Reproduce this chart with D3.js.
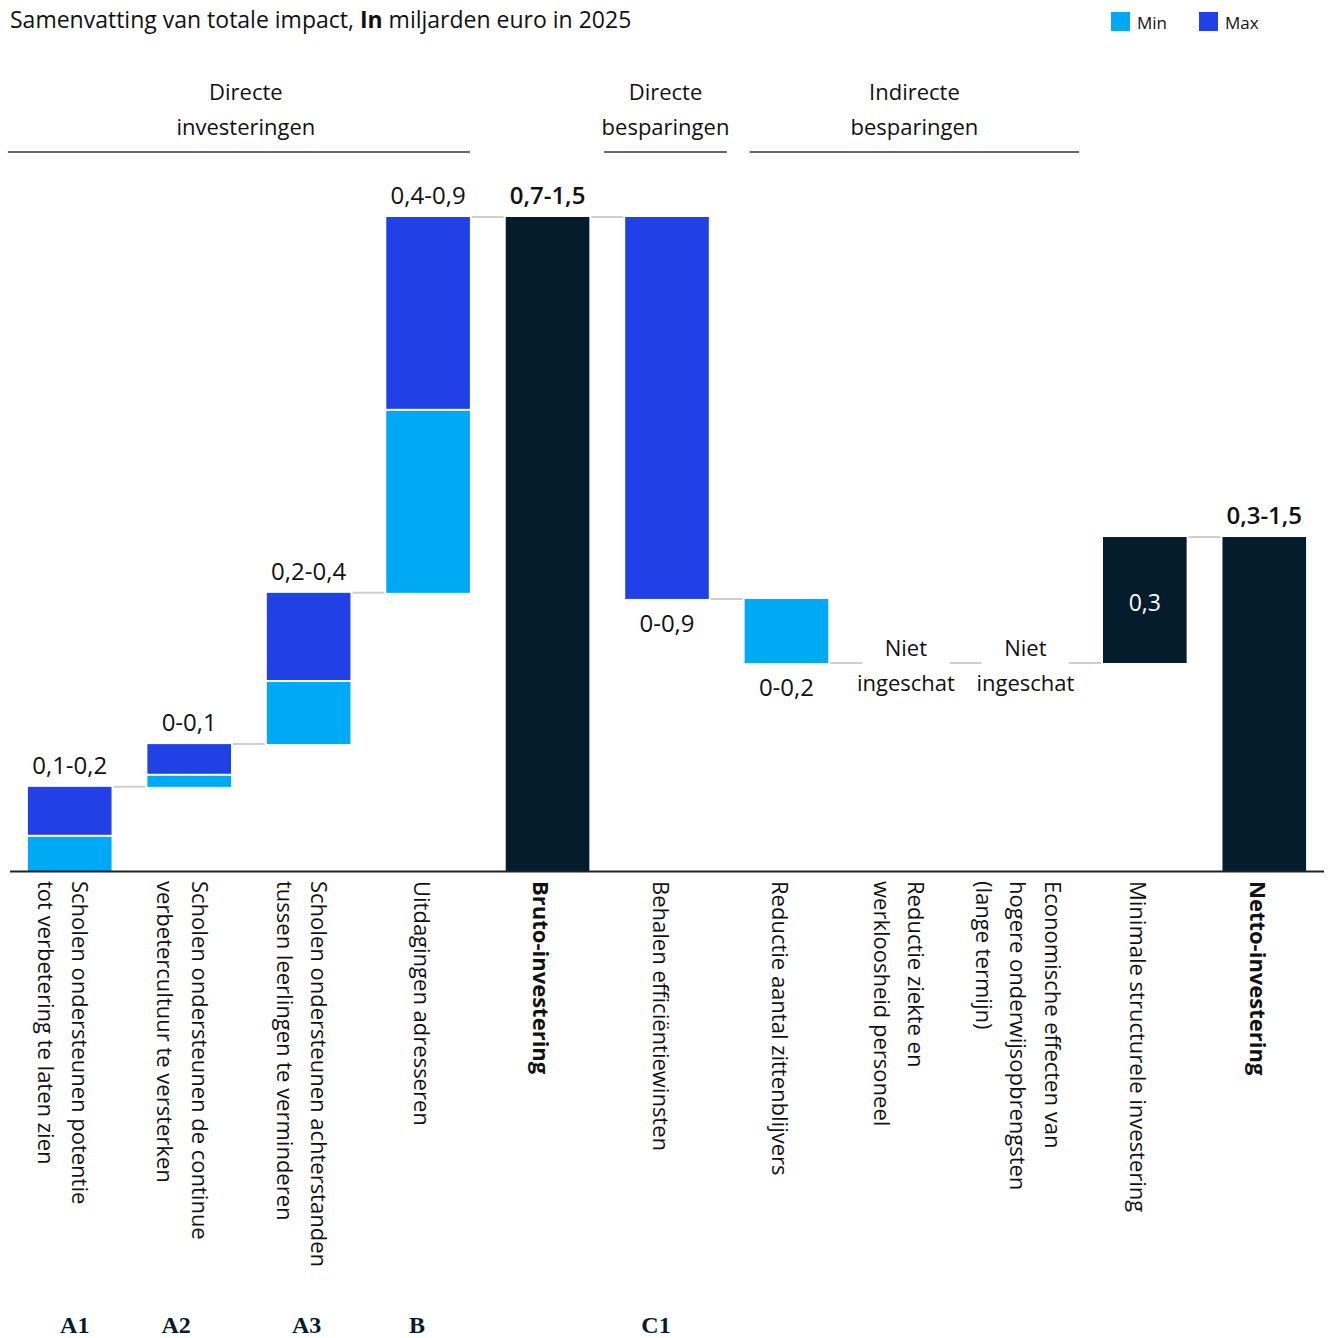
<!DOCTYPE html>
<html>
<head>
<meta charset="utf-8">
<script src="https://cdn.jsdelivr.net/npm/d3@7"></script>
<style>
body{margin:0;background:#fff}
text{font-family:"Open Sans",Arial,sans-serif;fill:#111}
</style>
</head>
<body>
<svg id="mySVG" width="1330" height="1338"></svg>
<script>
//---data---
var catLabels=[
    ["Scholen ondersteunen potentie","tot verbetering te laten zien"],
    ["Scholen ondersteunen de continue","verbetercultuur te versterken"],
    ["Scholen ondersteunen achterstanden","tussen leerlingen te verminderen"],
    ["Uitdagingen adresseren"],
    ["Bruto-investering"],
    ["Behalen efficiëntiewinsten"],
    ["Reductie aantal zittenblijvers"],
    ["Reductie ziekte en","werkloosheid personeel"],
    ["Economische effecten van","hogere onderwijsopbrengsten","(lange termijn)"],
    ["Minimale structurele investering"],
    ["Netto-investering"]
]
var catCodes=["A1","A2","A3","B","","C1","","","","",""]
var stepKind=["up","up","up","up","total","down","down","down","down","up","total"]
var minVals=[0.083,0.030,0.147,0.422,0,0,0.147,0,0,0,0]
var maxVals=[0.110,0.068,0.200,0.440,0,0.876,0,0,0,0,0]
var fixedVals=[0,0,0,0,0,0,0,0,0,0.289,0]
var valueLabels=["0,1-0,2","0-0,1","0,2-0,4","0,4-0,9","0,7-1,5","0-0,9","0-0,2","Niet ingeschat","Niet ingeschat","0,3","0,3-1,5"]
var labelPos=["above","above","above","above","above","below","below","split","split","inside","above"]
var groups=[
    {lines:["Directe","investeringen"],from:0,to:3},
    {lines:["Directe","besparingen"],from:5,to:5},
    {lines:["Indirecte","besparingen"],from:6,to:8}
]
var legendItems=["Min","Max"]

var cCyan="#00a9f4", cBlue="#2140e6", cNavy="#051c2c"

var svg=d3.select("#mySVG")
var x=d3.scaleBand().domain(d3.range(catLabels.length)).range([10,1324]).paddingInner(0.3).paddingOuter(0.15)
var y=d3.scaleLinear().domain([0,1.5]).range([871,217])
var bw=x.bandwidth()

//---running totals for the waterfall---
var steps=[]
var run=0
for(var i=0;i<catLabels.length;i++)
{
    var s={i:i,kind:stepKind[i]}
    if(stepKind[i]=="total")
    {
        s.start=0; s.end=run
        s.segs=[{a:0,b:run,c:cNavy}]
    }
    else if(stepKind[i]=="up")
    {
        s.start=run
        var segs=[]
        if(minVals[i]>0){segs.push({a:run,b:run+minVals[i],c:cCyan}); run+=minVals[i]}
        if(maxVals[i]>0){segs.push({a:run,b:run+maxVals[i],c:cBlue}); run+=maxVals[i]}
        if(fixedVals[i]>0){segs.push({a:run,b:run+fixedVals[i],c:cNavy}); run+=fixedVals[i]}
        s.end=run
        s.segs=segs
    }
    else
    {
        s.start=run
        var segs=[]
        if(maxVals[i]>0){segs.push({a:run-maxVals[i],b:run,c:cBlue}); run-=maxVals[i]}
        if(minVals[i]>0){segs.push({a:run-minVals[i],b:run,c:cCyan}); run-=minVals[i]}
        s.end=run
        s.segs=segs
    }
    steps.push(s)
}

//---title---
var title=svg.append("text").attr("x",10).attr("y",28).attr("font-size",23)
title.append("tspan").text("Samenvatting van totale impact, ")
title.append("tspan").attr("font-weight","bold").text("In")
title.append("tspan").text(" miljarden euro in 2025")

//---legend---
var lg=svg.append("g")
legendItems.forEach(function(d,k){
    var lx=[1111,1199][k]
    lg.append("rect").attr("x",lx).attr("y",12).attr("width",19).attr("height",19).attr("fill",k==0?cCyan:cBlue)
    lg.append("text").attr("x",lx+26).attr("y",29).attr("font-size",17).text(d)
})

//---group headers---
var padL=[20,21,-5], padR=[0,18,12], textShift=[7,0,0]
groups.forEach(function(g,k){
    var x0=x(g.from)-padL[k], x1=x(g.to)+bw+padR[k]
    var cx=(x0+x1)/2+textShift[k]
    svg.append("line").attr("x1",x0).attr("x2",x1).attr("y1",152).attr("y2",152).attr("stroke","#333").attr("stroke-width",1.5)
    g.lines.forEach(function(t,j){
        svg.append("text").attr("x",cx).attr("y",100+j*35).attr("text-anchor","middle").attr("font-size",22).text(t)
    })
})

//---connectors---
var conG=svg.append("g")
for(var i=0;i<steps.length-1;i++)
{
    var lvl=steps[i].end
    conG.append("line")
    .attr("x1",x(i)+bw+2).attr("x2",x(i+1)-2)
    .attr("y1",y(lvl)).attr("y2",y(lvl))
    .attr("stroke","#cfcfcf").attr("stroke-width",2)
}

//---bars---
var barG=svg.append("g")
steps.forEach(function(s){
    s.segs.forEach(function(seg,j){
        var top=y(seg.b), bot=y(seg.a)
        var gap=(s.segs.length>1&&j==0)?2:0
        barG.append("rect")
        .attr("x",x(s.i)).attr("width",bw)
        .attr("y",top+gap).attr("height",Math.max(0,bot-top-gap))
        .attr("fill",seg.c)
    })
})

//---baseline---
svg.append("line").attr("x1",10).attr("x2",1324).attr("y1",y(0)+0.5).attr("y2",y(0)+0.5).attr("stroke","#222").attr("stroke-width",2)

//---value labels---
steps.forEach(function(s){
    var cx=x(s.i)+bw/2
    var hi=Math.max(s.start,s.end), lo=Math.min(s.start,s.end)
    var bold=s.kind=="total"
    var pos=labelPos[s.i]
    if(pos=="above")
        svg.append("text").attr("x",cx).attr("y",y(hi)-13).attr("text-anchor","middle").attr("font-size",24)
        .attr("font-weight",bold?"600":"normal").text(valueLabels[s.i])
    else if(pos=="below")
        svg.append("text").attr("x",cx).attr("y",y(lo)+33).attr("text-anchor","middle").attr("font-size",24).text(valueLabels[s.i])
    else if(pos=="inside")
        svg.append("text").attr("x",cx).attr("y",(y(hi)+y(lo))/2+11).attr("text-anchor","middle").attr("font-size",23)
        .style("fill","#fff").text(valueLabels[s.i])
    else
    {
        var parts=valueLabels[s.i].split(" ")
        parts.forEach(function(t,j){
            svg.append("text").attr("x",cx).attr("y",y(lo)-7+j*35).attr("text-anchor","middle").attr("font-size",22).text(t)
        })
    }
})

//---rotated category labels---
catLabels.forEach(function(lines,i){
    var n=lines.length
    var x0=x(i)+bw/2-14.5+(n-1)*17
    var t=svg.append("text").attr("transform","translate("+x0+",881) rotate(90)")
    .attr("font-size",22).attr("font-weight",stepKind[i]=="total"?"bold":"normal")
    lines.forEach(function(l,j){
        t.append("tspan").attr("x",0).attr("dy",j==0?0:34.5).text(l)
    })
})

//---codes at bottom---
var codeShift=[5,-13,-2,-11,0,-11,0,0,0,0,0]
catCodes.forEach(function(c,i){
    if(!c) return
    svg.append("text").attr("x",x(i)+bw/2+codeShift[i]).attr("y",1333).attr("text-anchor","middle")
    .attr("font-weight","bold").attr("font-size",24)
    .style("fill",cNavy).style("font-family","'Liberation Serif','DejaVu Serif',serif").text(c)
})
</script>
</body>
</html>
